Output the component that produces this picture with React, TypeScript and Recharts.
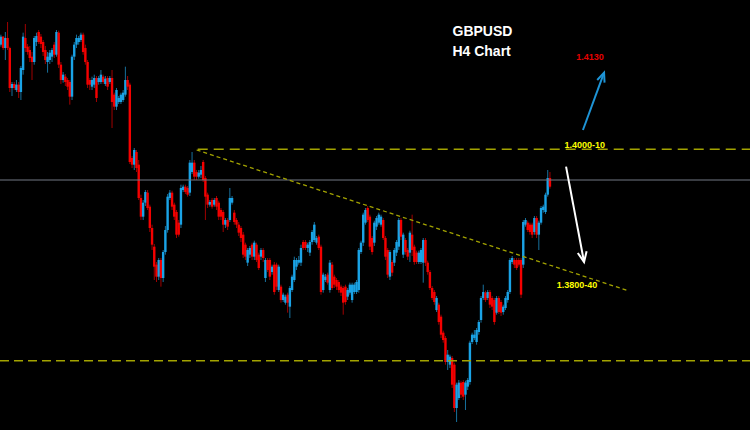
import React from 'react';
import { ComposedChart, Bar, XAxis, YAxis, ReferenceLine, ReferenceDot } from 'recharts';

type Candle = [number, number, number, number]; // open, high, low, close

// Highs consolidation and first sell-off
const segA: Candle[] = [
  [1.4158,1.4173,1.4155,1.4170],[1.4170,1.4171,1.4150,1.4153],[1.4153,1.4177,1.4135,1.4168],[1.4168,1.4192,1.4150,1.4153],
  [1.4153,1.4155,1.4087,1.4093],[1.4093,1.4102,1.4081,1.4099],[1.4099,1.4102,1.4090,1.4093],[1.4090,1.4105,1.4087,1.4098],
  [1.4098,1.4102,1.4078,1.4087],[1.4087,1.4126,1.4075,1.4123],[1.4120,1.4176,1.4113,1.4170],[1.4168,1.4189,1.4147,1.4153],
  [1.4155,1.4159,1.4143,1.4147],[1.4150,1.4156,1.4132,1.4138],[1.4140,1.4147,1.4105,1.4132],[1.4132,1.4171,1.4128,1.4168],
  [1.4162,1.4176,1.4156,1.4171],[1.4177,1.4180,1.4159,1.4162],[1.4170,1.4174,1.4153,1.4159],[1.4162,1.4165,1.4141,1.4147],
  [1.4150,1.4156,1.4129,1.4135],[1.4132,1.4147,1.4116,1.4140],[1.4135,1.4150,1.4129,1.4146],[1.4140,1.4153,1.4132,1.4150],
  [1.4158,1.4162,1.4138,1.4143],[1.4143,1.4180,1.4140,1.4177],[1.4176,1.4179,1.4123,1.4128],[1.4128,1.4132,1.4099,1.4105],
  [1.4105,1.4117,1.4101,1.4113],[1.4110,1.4114,1.4096,1.4102],[1.4105,1.4108,1.4090,1.4095],[1.4102,1.4105,1.4068,1.4080],
  [1.4080,1.4143,1.4075,1.4140],[1.4140,1.4162,1.4135,1.4158],[1.4158,1.4173,1.4153,1.4168],[1.4162,1.4171,1.4158,1.4168],
  [1.4165,1.4176,1.4162,1.4173],[1.4173,1.4176,1.4143,1.4147],[1.4153,1.4158,1.4128,1.4132],[1.4132,1.4135,1.4093,1.4098],
  [1.4105,1.4108,1.4090,1.4098],[1.4095,1.4110,1.4090,1.4105],[1.4098,1.4113,1.4093,1.4108],[1.4108,1.4111,1.4072,1.4078],
  [1.4102,1.4111,1.4098,1.4108],[1.4102,1.4120,1.4099,1.4113],[1.4110,1.4113,1.4099,1.4102],[1.4099,1.4111,1.4096,1.4107],
  [1.4108,1.4111,1.4090,1.4095],[1.4102,1.4111,1.4099,1.4108],[1.4108,1.4120,1.4033,1.4072],[1.4083,1.4086,1.4060,1.4065],
  [1.4065,1.4093,1.4060,1.4090],[1.4072,1.4081,1.4069,1.4078],[1.4072,1.4086,1.4069,1.4083],[1.4075,1.4090,1.4072,1.4086],
  [1.4083,1.4125,1.4080,1.4105],[1.4105,1.4111,1.4090,1.4095],[1.4098,1.4101,1.3979,1.3982],[1.3988,1.3991,1.3973,1.3978],
  [1.3978,1.4003,1.3970,1.4000],[1.3997,1.4000,1.3967,1.3973],[1.3978,1.3985,1.3925,1.3928],[1.3928,1.3933,1.3895,1.3900],
];

// Low, rebound to the swing high and the grind lower
const segB: Candle[] = [
  [1.3900,1.3925,1.3895,1.3921],[1.3921,1.3940,1.3916,1.3937],[1.3936,1.3940,1.3910,1.3913],[1.3915,1.3918,1.3877,1.3883],
  [1.3883,1.3888,1.3850,1.3858],[1.3855,1.3859,1.3805,1.3825],[1.3828,1.3832,1.3802,1.3810],[1.3810,1.3838,1.3805,1.3835],
  [1.3835,1.3838,1.3795,1.3808],[1.3808,1.3850,1.3802,1.3847],[1.3847,1.3886,1.3843,1.3880],[1.3880,1.3934,1.3876,1.3930],
  [1.3928,1.3940,1.3925,1.3936],[1.3936,1.3939,1.3910,1.3915],[1.3918,1.3921,1.3895,1.3900],[1.3907,1.3910,1.3868,1.3873],
  [1.3891,1.3895,1.3870,1.3873],[1.3888,1.3948,1.3883,1.3943],[1.3940,1.3948,1.3937,1.3945],[1.3945,1.3948,1.3934,1.3937],
  [1.3943,1.3946,1.3930,1.3933],[1.3936,1.3985,1.3931,1.3981],[1.3967,1.3997,1.3964,1.3981],[1.3981,1.3985,1.3955,1.3960],
  [1.3967,1.3970,1.3955,1.3960],[1.3960,1.3970,1.3957,1.3966],[1.3963,1.3976,1.3958,1.3970],[1.3982,1.3985,1.3952,1.3955],
  [1.3958,1.3961,1.3895,1.3930],[1.3933,1.3936,1.3913,1.3918],[1.3918,1.3925,1.3915,1.3922],[1.3925,1.3928,1.3912,1.3915],
  [1.3918,1.3928,1.3915,1.3925],[1.3928,1.3931,1.3910,1.3915],[1.3921,1.3924,1.3895,1.3900],[1.3910,1.3913,1.3895,1.3900],
  [1.3907,1.3910,1.3877,1.3888],[1.3888,1.3898,1.3883,1.3895],[1.3895,1.3898,1.3880,1.3885],[1.3895,1.3943,1.3892,1.3928],
  [1.3921,1.3931,1.3918,1.3928],[1.3906,1.3910,1.3888,1.3892],[1.3895,1.3898,1.3883,1.3888],[1.3888,1.3892,1.3871,1.3876],
  [1.3883,1.3886,1.3862,1.3868],[1.3873,1.3877,1.3838,1.3843],[1.3858,1.3861,1.3835,1.3840],[1.3831,1.3853,1.3826,1.3850],
  [1.3843,1.3856,1.3838,1.3853],[1.3858,1.3861,1.3835,1.3840],[1.3840,1.3864,1.3835,1.3861],[1.3858,1.3861,1.3832,1.3835],
  [1.3843,1.3846,1.3820,1.3823],[1.3840,1.3853,1.3835,1.3850],[1.3850,1.3853,1.3832,1.3838],[1.3808,1.3838,1.3802,1.3835],
  [1.3835,1.3838,1.3817,1.3820],[1.3835,1.3838,1.3805,1.3810],[1.3817,1.3828,1.3813,1.3825],[1.3828,1.3832,1.3783,1.3787],
];

// Range under the trendline
const segC: Candle[] = [
  [1.3828,1.3831,1.3790,1.3795],[1.3790,1.3828,1.3787,1.3825],[1.3795,1.3798,1.3771,1.3775],[1.3775,1.3786,1.3772,1.3783],
  [1.3771,1.3783,1.3768,1.3780],[1.3783,1.3786,1.3756,1.3771],[1.3765,1.3796,1.3748,1.3793],[1.3790,1.3813,1.3787,1.3810],
  [1.3805,1.3840,1.3802,1.3835],[1.3825,1.3838,1.3820,1.3835],[1.3831,1.3841,1.3828,1.3835],[1.3831,1.3858,1.3826,1.3853],
  [1.3862,1.3865,1.3850,1.3853],[1.3862,1.3865,1.3850,1.3853],[1.3853,1.3861,1.3847,1.3858],[1.3846,1.3865,1.3841,1.3862],
  [1.3862,1.3880,1.3858,1.3877],[1.3865,1.3892,1.3862,1.3888],[1.3861,1.3871,1.3858,1.3868],[1.3870,1.3873,1.3850,1.3853],
  [1.3855,1.3858,1.3783,1.3787],[1.3790,1.3816,1.3786,1.3813],[1.3805,1.3814,1.3802,1.3810],[1.3813,1.3816,1.3798,1.3801],
  [1.3790,1.3835,1.3786,1.3831],[1.3828,1.3832,1.3790,1.3793],[1.3810,1.3813,1.3793,1.3798],[1.3805,1.3808,1.3790,1.3795],
  [1.3802,1.3805,1.3786,1.3790],[1.3795,1.3798,1.3781,1.3786],[1.3793,1.3796,1.3753,1.3771],[1.3795,1.3798,1.3768,1.3772],
  [1.3780,1.3793,1.3775,1.3790],[1.3786,1.3801,1.3783,1.3798],[1.3775,1.3801,1.3771,1.3798],[1.3787,1.3801,1.3784,1.3798],
  [1.3787,1.3805,1.3784,1.3802],[1.3790,1.3853,1.3786,1.3850],[1.3847,1.3864,1.3844,1.3861],[1.3861,1.3906,1.3856,1.3903],
  [1.3891,1.3913,1.3888,1.3910],[1.3913,1.3916,1.3892,1.3895],[1.3900,1.3903,1.3850,1.3855],[1.3868,1.3871,1.3843,1.3847],
  [1.3861,1.3894,1.3856,1.3891],[1.3885,1.3901,1.3880,1.3898],[1.3891,1.3906,1.3888,1.3903],[1.3888,1.3903,1.3885,1.3900],
  [1.3895,1.3898,1.3865,1.3868],[1.3868,1.3871,1.3835,1.3840],[1.3850,1.3853,1.3808,1.3813],[1.3810,1.3850,1.3805,1.3847],
  [1.3832,1.3835,1.3811,1.3816],[1.3831,1.3853,1.3826,1.3850],[1.3846,1.3865,1.3841,1.3862],[1.3855,1.3898,1.3850,1.3895],
  [1.3895,1.3898,1.3865,1.3870],[1.3843,1.3876,1.3838,1.3873],[1.3865,1.3868,1.3843,1.3847],[1.3850,1.3853,1.3835,1.3840],
  [1.3846,1.3879,1.3832,1.3876],[1.3873,1.3903,1.3841,1.3850],[1.3855,1.3858,1.3828,1.3832],[1.3846,1.3849,1.3829,1.3832],
  [1.3832,1.3849,1.3829,1.3846],[1.3832,1.3853,1.3829,1.3850],
];

// Drop to the lows and the breakout rally
const segD: Candle[] = [
  [1.3831,1.3868,1.3801,1.3865],[1.3865,1.3868,1.3826,1.3831],[1.3831,1.3834,1.3813,1.3817],[1.3817,1.3820,1.3790,1.3793],
  [1.3793,1.3796,1.3775,1.3778],[1.3787,1.3790,1.3768,1.3772],[1.3760,1.3781,1.3757,1.3778],[1.3768,1.3771,1.3738,1.3742],
  [1.3750,1.3753,1.3718,1.3723],[1.3726,1.3729,1.3711,1.3715],[1.3718,1.3721,1.3678,1.3682],[1.3682,1.3700,1.3670,1.3693],
  [1.3678,1.3693,1.3673,1.3690],[1.3688,1.3691,1.3643,1.3648],[1.3678,1.3681,1.3607,1.3613],[1.3613,1.3651,1.3592,1.3648],
  [1.3628,1.3655,1.3625,1.3651],[1.3651,1.3654,1.3628,1.3633],[1.3652,1.3655,1.3625,1.3630],[1.3633,1.3654,1.3610,1.3651],
  [1.3645,1.3658,1.3640,1.3655],[1.3652,1.3714,1.3648,1.3711],[1.3712,1.3726,1.3709,1.3723],[1.3718,1.3730,1.3715,1.3723],
  [1.3712,1.3733,1.3708,1.3730],[1.3727,1.3745,1.3723,1.3742],[1.3745,1.3781,1.3741,1.3778],[1.3778,1.3798,1.3775,1.3787],
  [1.3786,1.3789,1.3772,1.3775],[1.3778,1.3790,1.3775,1.3787],[1.3787,1.3790,1.3763,1.3768],[1.3778,1.3781,1.3760,1.3765],
  [1.3775,1.3778,1.3738,1.3742],[1.3756,1.3781,1.3753,1.3778],[1.3778,1.3781,1.3754,1.3757],[1.3772,1.3775,1.3751,1.3756],
  [1.3757,1.3768,1.3753,1.3765],[1.3763,1.3781,1.3760,1.3778],[1.3775,1.3790,1.3771,1.3787],[1.3787,1.3838,1.3784,1.3835],
  [1.3832,1.3841,1.3829,1.3838],[1.3835,1.3838,1.3823,1.3828],[1.3835,1.3838,1.3820,1.3823],[1.3835,1.3838,1.3825,1.3828],
  [1.3835,1.3838,1.3778,1.3783],[1.3828,1.3895,1.3823,1.3892],[1.3888,1.3898,1.3885,1.3895],[1.3891,1.3894,1.3877,1.3880],
  [1.3888,1.3891,1.3873,1.3877],[1.3888,1.3891,1.3868,1.3873],[1.3877,1.3901,1.3873,1.3898],[1.3898,1.3901,1.3868,1.3873],
  [1.3873,1.3894,1.3850,1.3891],[1.3891,1.3916,1.3888,1.3913],[1.3910,1.3918,1.3906,1.3915],[1.3907,1.3936,1.3904,1.3933],
  [1.3933,1.3970,1.3930,1.3958],[1.3958,1.3967,1.3942,1.3945],
];

const candles: Candle[] = [...segA, ...segB, ...segC, ...segD];

// Annotations (x = candle index, y = price)
const resistanceLevel = 1.4001;
const resistanceStart = 88.5;
const trendline: [number, number][] = [[88, 1.4000], [282.1, 1.3789]];
const supportLevel = 1.3684;
const lastPriceLevel = 1.3955;
const upArrow: [number, number][] = [[261.8, 1.4030], [271.3, 1.4116]];
const downArrow: [number, number][] = [[254.2, 1.3975], [262.3, 1.3832]];
const titleLines: [string, number, number][] = [['GBPUSD', 216.6, 1.4179], ['H4 Chart', 216.2, 1.4148]];
const targetLabel: [string, number, number] = ['1.4130', 265.0, 1.4139];
const zoneLabels: [string, number, number][] = [['1.4000-10', 262.6, 1.4008], ['1.3800-40', 259.1, 1.3798]];

const X_DOMAIN: [number, number] = [-0.45, 336.95];
const Y_DOMAIN: [number, number] = [1.358, 1.4225];

const data = candles.map(([o, h, l, c], i) => ({ i, o, h, l, c, range: [l, h] }));

const UP = '#1aa3e6';
const UP_WICK = '#17709c';
const DOWN = '#f50000';
const DOWN_WICK = '#a00000';
const OLIVE = '#a3a300';

const CandleShape = (props: any) => {
  const { x, y, width, height, payload } = props;
  if (!payload || x == null || y == null) return null;
  const { o, h, l, c } = payload;
  const cx = x + width / 2;
  const span = h - l;
  const py = (v: number) => (span === 0 ? y : y + ((h - v) / span) * height);
  const up = c >= o;
  const top = py(Math.max(o, c));
  const bot = py(Math.min(o, c));
  return (
    <g>
      <rect x={cx - 0.5} y={y} width={1} height={Math.max(height, 1)} fill={up ? UP_WICK : DOWN_WICK} />
      <rect x={cx - 1.2} y={top} width={2.4} height={Math.max(bot - top, 1)} fill={up ? UP : DOWN} />
    </g>
  );
};

const arrowShape = (color: string, len: number, spread: number) => (props: any) => {
  const { x1, y1, x2, y2 } = props;
  const ang = Math.atan2(y2 - y1, x2 - x1);
  const ax = x2 - len * Math.cos(ang - spread);
  const ay = y2 - len * Math.sin(ang - spread);
  const bx = x2 - len * Math.cos(ang + spread);
  const by = y2 - len * Math.sin(ang + spread);
  return (
    <g>
      <line x1={x1} y1={y1} x2={x2} y2={y2} stroke={color} strokeWidth={2} />
      <polyline points={`${ax},${ay} ${x2},${y2} ${bx},${by}`} fill="none" stroke={color} strokeWidth={2} />
    </g>
  );
};

const textShape = (text: string, color: string, size: number) => (props: any) => (
  <text
    x={props.cx}
    y={props.cy}
    fill={color}
    fontSize={size}
    fontWeight="bold"
    fontFamily="'Liberation Sans', Arial, sans-serif"
    textAnchor="middle"
    dominantBaseline="central"
  >
    {text}
  </text>
);

export default function App() {
  return (
    <div style={{ position: 'absolute', left: 0, top: 0, width: 750, height: 430, background: '#000', overflow: 'hidden' }}>
      <ComposedChart width={750} height={430} data={data} margin={{ top: 0, right: 0, bottom: 0, left: 0 }}>
        <XAxis type="number" dataKey="i" domain={X_DOMAIN} hide allowDataOverflow />
        <YAxis type="number" domain={Y_DOMAIN} hide allowDataOverflow />
        <ReferenceLine y={lastPriceLevel} stroke="#737884" strokeWidth={1} ifOverflow="visible" />
        <ReferenceLine y={supportLevel} stroke={OLIVE} strokeWidth={1.5} strokeDasharray="9 5" ifOverflow="visible" />
        <ReferenceLine
          segment={[{ x: resistanceStart, y: resistanceLevel }, { x: X_DOMAIN[1], y: resistanceLevel }]}
          stroke={OLIVE}
          strokeWidth={1.5}
          strokeDasharray="10 6"
          ifOverflow="visible"
        />
        <ReferenceLine
          segment={[{ x: trendline[0][0], y: trendline[0][1] }, { x: trendline[1][0], y: trendline[1][1] }]}
          stroke={OLIVE}
          strokeWidth={1.3}
          strokeDasharray="4 3"
          ifOverflow="visible"
        />
        <Bar dataKey="range" barSize={2} isAnimationActive={false} shape={CandleShape} />
        <ReferenceLine
          segment={[{ x: upArrow[0][0], y: upArrow[0][1] }, { x: upArrow[1][0], y: upArrow[1][1] }]}
          ifOverflow="visible"
          shape={arrowShape('#1e94d6', 10, 0.4)}
        />
        <ReferenceLine
          segment={[{ x: downArrow[0][0], y: downArrow[0][1] }, { x: downArrow[1][0], y: downArrow[1][1] }]}
          ifOverflow="visible"
          shape={arrowShape('#ffffff', 11, 0.42)}
        />
        {titleLines.map(([t, xi, p]) => (
          <ReferenceDot key={t} x={xi} y={p} r={0} ifOverflow="visible" shape={textShape(t, '#ffffff', 14)} />
        ))}
        <ReferenceDot
          x={targetLabel[1]}
          y={targetLabel[2]}
          r={0}
          ifOverflow="visible"
          shape={textShape(targetLabel[0], '#e60000', 9)}
        />
        {zoneLabels.map(([t, xi, p]) => (
          <ReferenceDot key={t} x={xi} y={p} r={0} ifOverflow="visible" shape={textShape(t, '#ffff00', 9)} />
        ))}
      </ComposedChart>
    </div>
  );
}
